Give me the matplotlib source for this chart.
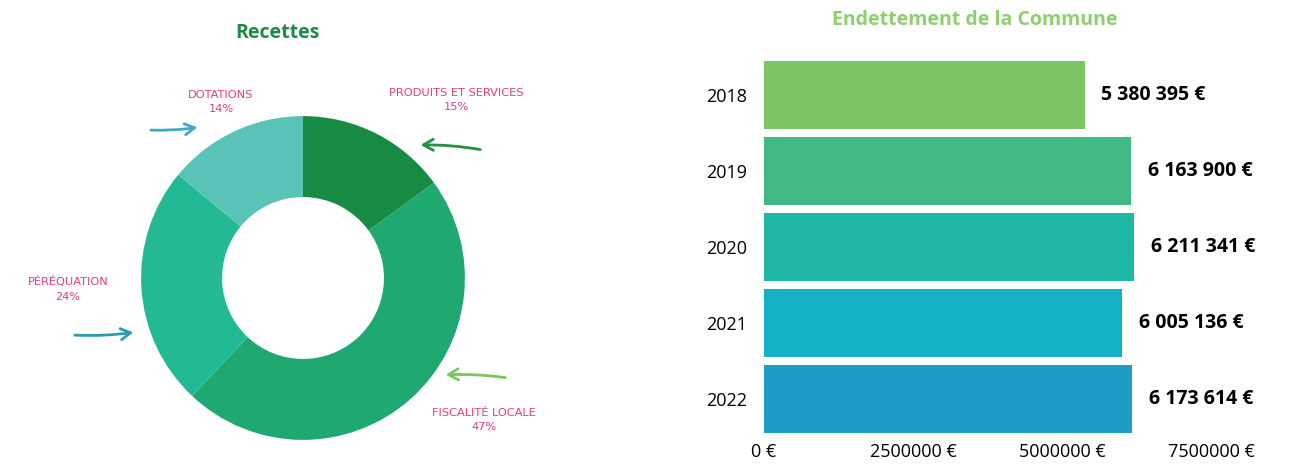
import matplotlib
matplotlib.use("Agg")
import matplotlib.pyplot as plt

# --- données ---
parts = ["Produits et services", "Fiscalité locale", "Péréquation", "Dotations"]
parts_pct = [15, 47, 24, 14]
parts_colors = ["#178a43", "#1fa971", "#23b994", "#58c3b6"]

years = ["2018", "2019", "2020", "2021", "2022"]
dette = [5380395, 6163900, 6211341, 6005136, 6173614]
dette_colors = ["#7dc462", "#40b984", "#1fb8a4", "#14b2c4", "#1f9bc6"]
xticks = [0, 2500000, 5000000, 7500000]

W, H = 1300, 466
fig = plt.figure(figsize=(W / 100, H / 100), dpi=100)


def px(x, y):
    # coordonnées pixel (origine en haut à gauche) -> fraction de figure
    return x / W, 1 - y / H


def fmt_eur(v):
    return f"{v:,}".replace(",", " ") + " €"


# --- donut ---
ax1 = fig.add_axes([133 / W, 18 / H, 340 / W, 340 / H])
ax1.pie(parts_pct, colors=parts_colors, startangle=90, counterclock=False,
        radius=1, wedgeprops=dict(width=0.5, linewidth=0))
ax1.set_xlim(-1.05, 1.05)
ax1.set_ylim(-1.05, 1.05)
ax1.set_aspect("equal")
ax1.axis("off")

fig.text(*px(277, 33), "Recettes", color="#1e8a45", fontsize=14,
         fontweight="bold", ha="center", va="center", family="Open Sans")

pink = "#e0407a"
labels_pos = [(456, 100), (484, 420), (68, 289), (221, 102)]
for name, pct, (x, y) in zip(parts, parts_pct, labels_pos):
    fig.text(*px(x, y), f"{name.upper()}\n{pct}%", color=pink, fontsize=8.2,
             ha="center", va="center", linespacing=1.5, family="DejaVu Sans")

arrows = [
    ((483, 150), (418, 145), "#2a8c45"),
    ((508, 378), (443, 375), "#7dc462"),
    ((72, 335), (136, 332), "#2a9db0"),
    ((148, 130), (200, 127), "#3aaec0"),
]
for start, end, col in arrows:
    fig.add_artist(matplotlib.patches.FancyArrowPatch(
        px(*start), px(*end), transform=fig.transFigure,
        arrowstyle="->,head_length=7,head_width=4", color=col, lw=2,
        connectionstyle="arc3,rad=0.05"))

# --- barres ---
ax2 = fig.add_axes([764 / W, 29 / H, 447 / W, 380 / H])
pos = list(range(len(years)))
ax2.barh(pos, dette, height=0.9, color=dette_colors)
ax2.set_ylim(len(years) - 0.5, -0.5)
ax2.set_xlim(0, 7500000)
ax2.set_yticks(pos)
ax2.set_yticklabels(years, fontsize=13, family="Open Sans")
ax2.set_xticks(xticks)
ax2.set_xticklabels([f"{v} €" for v in xticks], fontsize=13, family="Open Sans")
ax2.tick_params(axis="x", length=0, pad=4)
ax2.tick_params(axis="y", length=0, pad=12)
for s in ax2.spines.values():
    s.set_visible(False)

for p, v in zip(pos, dette):
    ax2.annotate(fmt_eur(v), (v, p), xytext=(12, 0), textcoords="offset points",
                 ha="left", va="center", fontsize=14, fontweight="bold",
                 family="Open Sans")

fig.text(*px(975, 20), "Endettement de la Commune", color="#8ecf6e",
         fontsize=14, fontweight="bold", ha="center", va="center",
         family="Open Sans")

fig.savefig("out.png", dpi=100, facecolor="white")
